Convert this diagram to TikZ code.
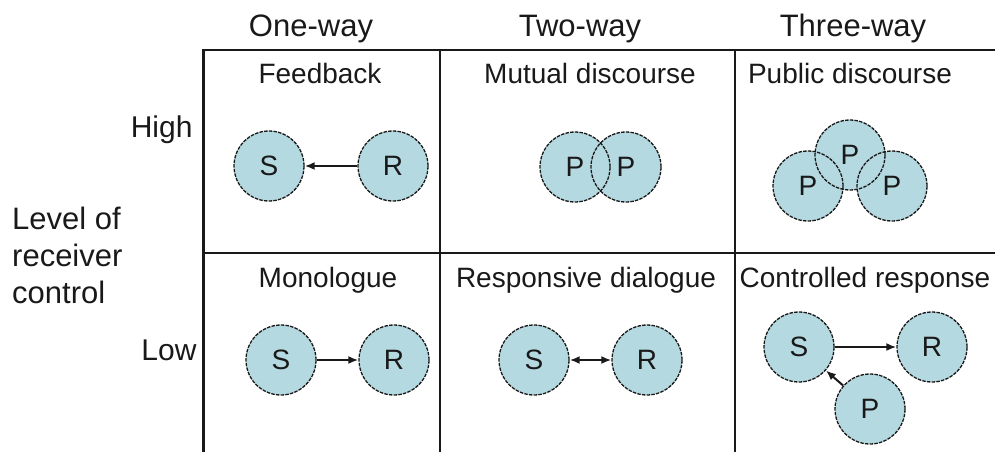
\documentclass[tikz,border=0pt]{standalone}
\usepackage{fontspec}
\setmainfont{Liberation Sans}
\usetikzlibrary{arrows.meta,backgrounds}
\definecolor{disc}{RGB}{180,217,224}
\definecolor{ink}{RGB}{25,25,25}
\tikzset{
    party/.style={circle,minimum size=70pt,inner sep=0pt,draw=ink,
        dash pattern=on 3.5pt off 1.2pt,line width=1.3pt,font=\fontsize{28}{30}\selectfont},
    link/.style={-{Latex[length=10pt,width=8pt]},line width=2pt,draw=ink},
    head/.style={anchor=base,font=\fontsize{31}{34}\selectfont},
    title/.style={anchor=base,font=\fontsize{28}{30}\selectfont},
    level/.style={anchor=base east,font=\fontsize{30}{34}\selectfont}
}

\begin{document}
\begin{tikzpicture}[x=1pt,y=-1pt,text=ink]
    \useasboundingbox (0,0) rectangle (995,452);

    % grid
    \draw[ink,line width=2.8pt] (203.5,452) -- (203.5,50) -- (995,50);
    \draw[ink,line width=2pt] (440,50) -- (440,452);
    \draw[ink,line width=2pt] (735,50) -- (735,452);
    \draw[ink,line width=2pt] (203.5,253) -- (995,253);

    % headings
    \node[head] (oneway) at (311,37) {One-way};
    \node[head] (twoway) at (580,37) {Two-way};
    \node[head] (threeway) at (853,37) {Three-way};
    \node[level] (high) at (196,137) {High};
    \node[level] (low) at (200,360) {Low};
    \node[anchor=north west,inner sep=0pt,align=left,font=\fontsize{31}{37}\selectfont]
        (axis) at (12,207) {Level of\\receiver\\control};

    % cell titles
    \node[title] (fb) at (320,83) {Feedback};
    \node[title] (mut) at (590,83) {Mutual discourse};
    \node[title] (pub) at (850,83) {Public discourse};
    \node[title] (mono) at (328,287) {Monologue};
    \node[title] (resp) at (586,287) {Responsive dialogue};
    \node[title] (ctrl) at (865,287) {Controlled response};

    % parties
    \node[party] (fbS) at (269,166) {S};
    \node[party] (fbR) at (393,166) {R};
    \node[party] (mutL) at (575,167) {P};
    \node[party] (mutR) at (626,167) {P};
    \node[party] (pubT) at (850,155) {P};
    \node[party] (pubL) at (808,186) {P};
    \node[party] (pubR) at (892,186) {P};
    \node[party] (monoS) at (281,360) {S};
    \node[party] (monoR) at (394,360) {R};
    \node[party] (respS) at (534,360) {S};
    \node[party] (respR) at (647,360) {R};
    \node[party] (ctrlS) at (799,347) {S};
    \node[party] (ctrlR) at (932,347) {R};
    \node[party] (ctrlP) at (870,409) {P};

    \begin{pgfonlayer}{background}
        \foreach \n in {fbS,fbR,mutL,mutR,pubT,pubL,pubR,monoS,monoR,respS,respR,ctrlS,ctrlR,ctrlP}
            \fill[disc] (\n.center) circle (35pt);
    \end{pgfonlayer}

    % flows
    \draw[link] (fbR) -- (fbS);
    \draw[link] (monoS) -- (monoR);
    \draw[link,{Latex[length=10pt,width=8pt]}-{Latex[length=10pt,width=8pt]}] (respS) -- (respR);
    \draw[link] (ctrlS) -- (ctrlR);
    \draw[link] (ctrlP) -- (ctrlS);
\end{tikzpicture}
\end{document}
